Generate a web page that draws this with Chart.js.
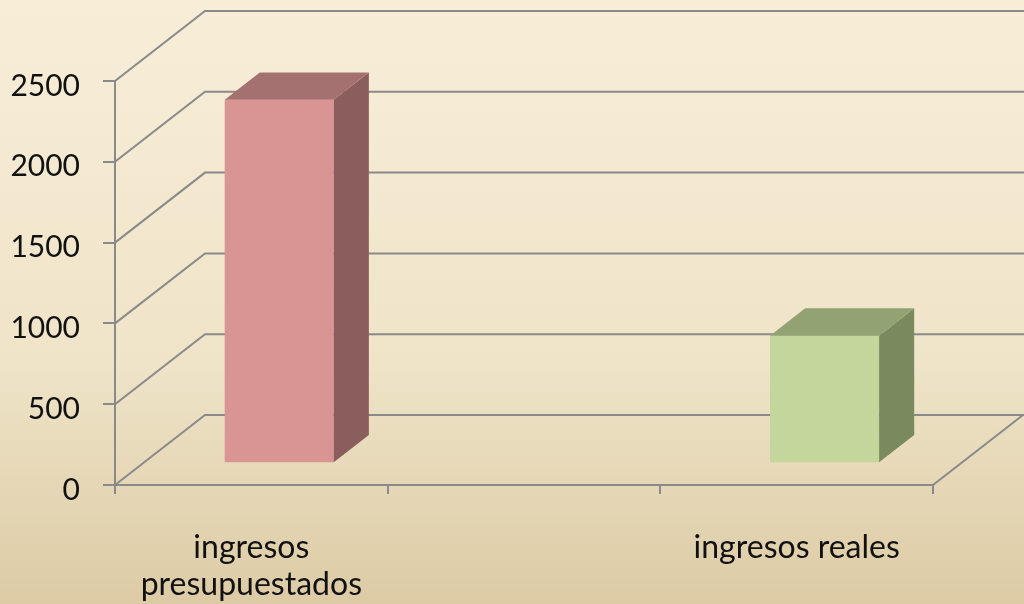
<!DOCTYPE html>
<html>
<head>
<meta charset="utf-8">
<script src="https://cdn.jsdelivr.net/npm/chart.js@4.4.1/dist/chart.umd.min.js"></script>
<style>
  body { margin: 0; background: #f0e4c8; }
  canvas { display: block; }
</style>
</head>
<body>
<canvas id="barChart" width="1024" height="604"></canvas>
<script>
// data
const categories = [["ingresos", "presupuestados"], "", "ingresos reales"];
const ingresos = [2250, null, 790];
const yTicks = [0, 500, 1000, 1500, 2000, 2500];

// colours for front / top / side of each bar
const frontColors = ["#d99594", "#d99594", "#c3d69b"];
const topColors = ["#a57070", "#a57070", "#93a273"];
const sideColors = ["#8b5e5e", "#8b5e5e", "#7b8a5e"];

const DX = 90, DY = -70;          // depth of the 3d box
const F1 = 0.31, F2 = 0.70;       // where the bars sit inside the depth
const gridColor = "#8a8a8a";

const box3d = {
    id: "box3d",
    beforeDraw(chart) {
        const c = chart.ctx;
        const g = c.createLinearGradient(0, 0, 0, chart.height);
        g.addColorStop(0, "#f8eed8");
        g.addColorStop(0.6, "#efe4c8");
        g.addColorStop(1, "#dccba5");
        c.save();
        c.fillStyle = g;
        c.fillRect(0, 0, chart.width, chart.height);
        c.restore();
    },
    beforeDatasetsDraw(chart) {
        const c = chart.ctx;
        const a = chart.chartArea;
        const y = chart.scales.y;
        c.save();
        c.strokeStyle = gridColor;
        c.lineWidth = 2;
        yTicks.forEach(v => {
            const py = y.getPixelForValue(v);
            c.beginPath();
            c.moveTo(a.left, py);
            c.lineTo(a.left + DX, py + DY);
            c.lineTo(chart.width + 5, py + DY);
            c.stroke();
        });
        // right edge of the floor
        c.beginPath();
        c.moveTo(a.right, a.bottom);
        c.lineTo(a.right + DX, a.bottom + DY);
        c.stroke();
        c.restore();

        // the front faces are drawn by chart.js, pushed back into the box
        c.save();
        c.translate(DX * F1, DY * F1);
    },
    afterDatasetsDraw(chart) {
        const c = chart.ctx;
        c.restore();
        const meta = chart.getDatasetMeta(0);
        const ox1 = DX * F1, oy1 = DY * F1, ox2 = DX * F2, oy2 = DY * F2;
        meta.data.forEach((bar, i) => {
            if (ingresos[i] == null) return;
            const p = bar.getProps(["x", "y", "base", "width"], true);
            const l = p.x - p.width / 2, r = p.x + p.width / 2;
            c.save();
            // side
            c.fillStyle = sideColors[i];
            c.beginPath();
            c.moveTo(r + ox1, p.y + oy1);
            c.lineTo(r + ox2, p.y + oy2);
            c.lineTo(r + ox2, p.base + oy2);
            c.lineTo(r + ox1, p.base + oy1);
            c.closePath();
            c.fill();
            // top
            c.fillStyle = topColors[i];
            c.beginPath();
            c.moveTo(l + ox1, p.y + oy1);
            c.lineTo(r + ox1, p.y + oy1);
            c.lineTo(r + ox2, p.y + oy2);
            c.lineTo(l + ox2, p.y + oy2);
            c.closePath();
            c.fill();
            c.restore();
        });
    }
};

const ctx = document.getElementById("barChart");
const myChart = new Chart(ctx, {
    type: "bar",
    data: {
        labels: categories,
        datasets: [{
            label: "ingresos",
            data: ingresos,
            backgroundColor: frontColors,
            borderWidth: 0,
            barPercentage: 0.4,
            categoryPercentage: 1
        }]
    },
    options: {
        responsive: false,
        animation: false,
        layout: { padding: { top: 81, right: 91, left: 0, bottom: 0 } },
        plugins: { legend: { display: false }, tooltip: { enabled: false } },
        scales: {
            x: {
                offset: true,
                grid: { offset: true, drawOnChartArea: false, drawTicks: true, tickLength: 9, color: gridColor, lineWidth: 2 },
                border: { display: true, color: gridColor, width: 2 },
                ticks: {
                    color: "#111",
                    font: { family: "Lato", size: 32, lineHeight: 1.16 },
                    padding: 35,
                    maxRotation: 0,
                    autoSkip: false
                },
                afterFit(scale) { scale.height = 119; }
            },
            y: {
                min: 0,
                max: 2500,
                afterBuildTicks(scale) { scale.ticks = yTicks.map(v => ({ value: v })); },
                grid: { drawOnChartArea: false, drawTicks: true, tickLength: 12, color: gridColor, lineWidth: 2 },
                border: { display: true, color: gridColor, width: 2 },
                ticks: {
                    color: "#111",
                    font: { family: "Lato", size: 30 },
                    padding: 23,
                    labelOffset: 5,
                    callback: v => String(v)
                },
                afterFit(scale) { scale.width = 115; }
            }
        }
    },
    plugins: [box3d]
});
</script>
</body>
</html>
